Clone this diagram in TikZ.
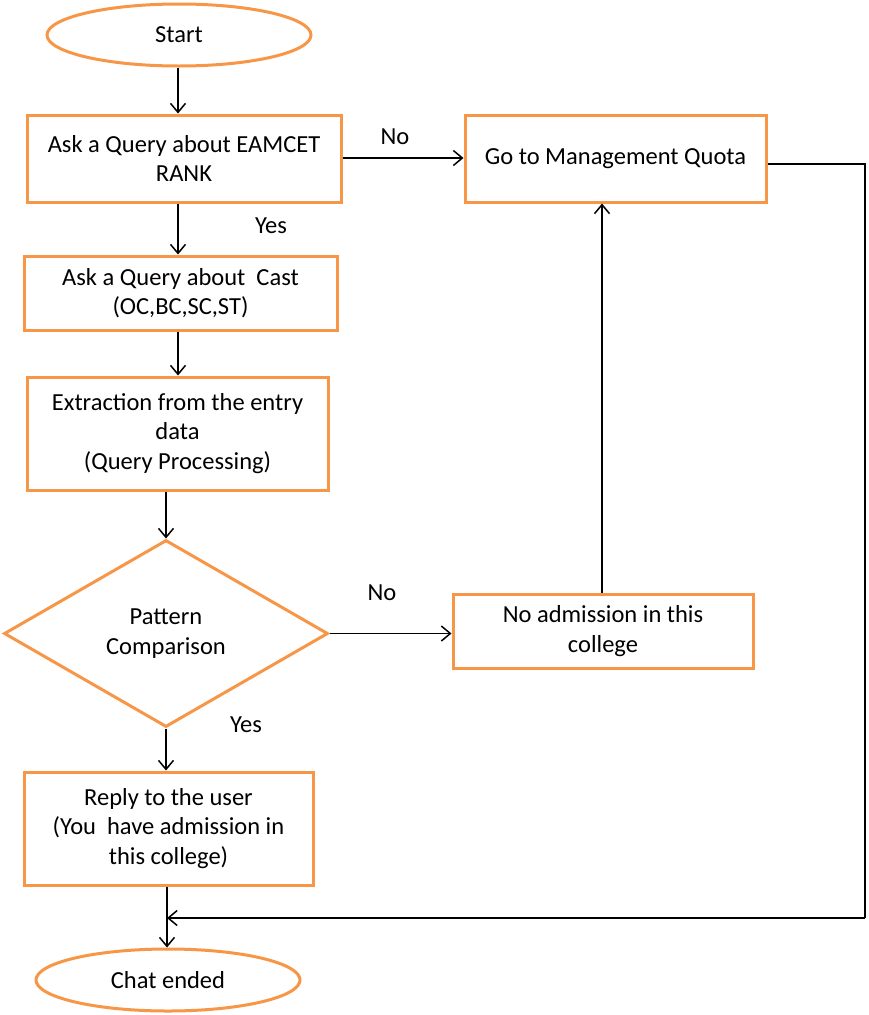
\documentclass[tikz,border=0pt]{standalone}
\usepackage{fontspec}
\setmainfont{Carlito}
\usetikzlibrary{shapes.geometric,arrows.meta}
\definecolor{boxorange}{RGB}{247,150,70}
\tikzset{
  every node/.style={font=\fontsize{24.5}{29.5}\selectfont, text=black},
  procbox/.style={draw=boxorange, line width=3pt, rectangle, align=center, inner sep=0pt},
  termbox/.style={draw=boxorange, line width=3pt, ellipse, inner sep=0pt},
  decbox/.style={draw=boxorange, line width=3pt, diamond, inner sep=0pt, align=center},
  conn/.style={draw=black, line width=1.5pt, -{Straight Barb[length=9pt,width=15pt,line width=1.5pt]}},
  plainline/.style={draw=black, line width=1.5pt},
  lbl/.style={inner sep=0pt}
}
\begin{document}
\begin{tikzpicture}[x=1pt,y=-1pt]
\useasboundingbox (0,0) rectangle (868,1015);
\node[termbox, minimum width=264pt, minimum height=62pt] (start) at (179,35) {Start};
\node[procbox, minimum width=314pt, minimum height=87pt] (rank) at (184,158.5) {Ask a Query about EAMCET\\RANK};
\node[procbox, minimum width=313pt, minimum height=74pt] (cast) at (180.5,293) {Ask a Query about~~Cast\\(OC,BC,SC,ST)};
\node[procbox, minimum width=301pt, minimum height=113pt] (extr) at (177.5,433.5) {Extraction from the entry\\data\\(Query Processing)};
\node[decbox, minimum width=324pt, minimum height=187pt, aspect=1.733] (patt) at (166,633.5) {Pattern\\Comparison};
\node[procbox, minimum width=289pt, minimum height=113pt] (reply) at (168.5,828.5) {Reply to the user\\(You~~have admission in\\this college)};
\node[termbox, minimum width=264pt, minimum height=62pt] (chat) at (168,980) {Chat ended};
\node[procbox, minimum width=301pt, minimum height=87pt] (mq) at (615.5,158.5) {Go to Management Quota};
\node[procbox, minimum width=300pt, minimum height=74pt] (noadm) at (603,631) {No admission in this\\college};

\coordinate (c1) at (865,164);
\coordinate (c2) at (865,918);
\coordinate (c3) at (167,918);

\draw[conn] (start.south -| 178,0) -- (rank.north -| 178,0);
\draw[conn] (rank.south -| 178,0) -- (cast.north -| 178,0);
\draw[conn] (cast.south -| 178,0) -- (extr.north -| 178,0);
\draw[conn] (extr.south -| 166,0) -- (patt.north);
\draw[conn] (patt.south) -- (reply.north -| 166,0);
\draw[conn] (reply.south -| 167,0) -- (chat.north -| 167,0);
\draw[conn] (rank.east |- 0,158) -- (mq.west |- 0,158);
\draw[conn] (patt.east) -- (noadm.west |- patt.east);
\draw[conn] (noadm.north -| 602,0) -- (mq.south -| 602,0);
\draw[plainline] (mq.east |- c1) -- (c1) -- (c2);
\draw[conn] (c2) -- (c3);

\node[lbl] (no1) at (395,137) {No};
\node[lbl] (yes1) at (271,226) {Yes};
\node[lbl] (no2) at (382,593) {No};
\node[lbl] (yes2) at (246,725) {Yes};
\end{tikzpicture}
\end{document}
